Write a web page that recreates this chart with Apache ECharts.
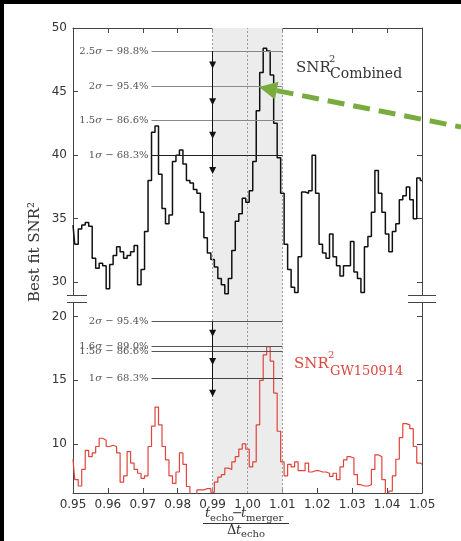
<!DOCTYPE html>
<html><head><meta charset="utf-8">
<script src="https://cdn.jsdelivr.net/npm/echarts@6/dist/echarts.min.js"></script>
<style>html,body{margin:0;padding:0;background:#fff;}#c{width:461px;height:541px;}</style>
</head><body><div id="c"></div>
<script>
// ---- data ----
const xValues = [0.950,0.951,0.952,0.953,0.954,0.955,0.956,0.957,0.958,0.959,
 0.960,0.961,0.962,0.963,0.964,0.965,0.966,0.967,0.968,0.969,
 0.970,0.971,0.972,0.973,0.974,0.975,0.976,0.977,0.978,0.979,
 0.980,0.981,0.982,0.983,0.984,0.985,0.986,0.987,0.988,0.989,
 0.990,0.991,0.992,0.993,0.994,0.995,0.996,0.997,0.998,0.999,
 1.000,1.001,1.002,1.003,1.004,1.005,1.006,1.007,1.008,1.009,
 1.010,1.011,1.012,1.013,1.014,1.015,1.016,1.017,1.018,1.019,
 1.020,1.021,1.022,1.023,1.024,1.025,1.026,1.027,1.028,1.029,
 1.030,1.031,1.032,1.033,1.034,1.035,1.036,1.037,1.038,1.039,
 1.040,1.041,1.042,1.043,1.044,1.045,1.046,1.047,1.048,1.049,1.050];
const combinedSNR2 = [34.5,33.0,34.2,34.5,34.7,34.4,31.9,31.1,31.5,31.3,
 29.5,31.4,32.1,32.8,32.4,31.9,32.1,32.4,32.9,29.8,
 31.0,34.0,38.0,41.8,42.3,38.5,35.8,34.6,35.3,39.5,
 40.0,40.4,39.3,38.0,37.8,37.3,37.0,35.5,33.5,32.3,
 31.8,31.2,30.3,29.8,29.1,30.3,32.5,34.8,35.4,36.6,
 36.3,37.2,39.5,43.5,46.5,48.4,48.2,46.3,42.5,39.8,
 37.0,33.0,31.0,29.6,29.2,32.0,37.1,37.0,37.2,40.0,
 37.0,33.0,32.3,31.9,33.8,32.0,31.3,30.5,31.3,31.3,
 33.2,30.8,30.3,29.2,32.8,33.6,35.5,38.8,37.0,35.5,
 33.8,32.4,34.0,34.6,36.5,36.8,37.5,36.5,35.0,38.2,38.0];
const gw150914SNR2 = [8.8,7.2,6.7,8.0,9.5,9.0,9.3,9.8,10.45,10.3,
 9.8,9.9,9.8,9.3,7.0,7.5,9.4,8.5,8.0,7.7,
 7.3,7.5,9.8,11.4,12.9,11.5,9.8,8.75,7.5,6.9,
 7.8,9.3,8.4,6.66,6.0,6.0,6.4,6.4,6.5,6.5,
 6.2,7.0,7.4,7.6,8.1,8.0,8.6,9.0,9.6,10.0,
 9.6,8.2,8.6,11.5,15.0,17.0,17.65,16.5,14.0,11.0,
 8.6,7.5,8.4,8.2,8.6,7.9,7.9,8.5,7.8,7.9,
 7.9,7.8,7.8,7.7,7.45,7.7,7.2,8.2,8.75,9.0,
 8.9,7.6,6.8,6.7,6.7,6.8,8.0,9.15,9.0,7.2,
 6.0,6.3,7.5,8.8,10.5,11.6,11.5,11.2,9.8,8.5,8.4];
const xTicks = [0.95,0.96,0.97,0.98,0.99,1.00,1.01,1.02,1.03,1.04,1.05];
const topYTicks = [30,35,40,45,50];
const bottomYTicks = [10,15,20];
const topSigmaLabels = ['2.5σ − 98.8%','2σ − 95.4%','1.5σ − 86.6%','1σ − 68.3%'];
const topSigmaLevels = [48.19,45.38,42.76,40.0];
const bottomSigmaLabels = ['2σ − 95.4%','1.6σ − 89.0%','1.5σ − 86.6%','1σ − 68.3%'];
const bottomSigmaLevels = [19.62,17.65,17.25,15.16];
const topArrowMarks = [47.09,44.2,41.57,38.8];
const bottomArrowMarks = [18.7,16.47,13.98];
const topArrowSpan = [48.19,38.6];
const bottomArrowSpan = [19.62,13.72];
const sigmaLineStart = 0.9725, sigmaLineEnd = 1.01, arrowX = 0.99;
const windowRange = [0.99,1.01];
const windowLines = [0.99,1.00,1.01];
const greenArrowTip = [1.0033,45.35];

// ---- chart ----
const chart = echarts.init(document.getElementById('c'));
const serif = "'DejaVu Serif', serif";
const sans = "'DejaVu Sans', sans-serif";
const pairs = (xs, ys) => xs.map((x,i)=>[x, ys[i]]);
const sigmaRich = t => { const i=t.indexOf('σ'); return '{n|'+t.slice(0,i)+'}{s|σ}{n|'+t.slice(i+1)+'}'; };
const richStyle = { n:{fontFamily:serif,fontSize:10,color:'#555'}, s:{fontFamily:serif,fontSize:10,fontStyle:'italic',color:'#555'} };

function sigmaLines(labels, levels, colors, span){
  const d = labels.map((lab,i)=>[
    {coord:[sigmaLineStart, levels[i]], lineStyle:{color:colors[i], width:1, type:'solid'},
     label:{show:true, position:'start', distance:3, formatter:sigmaRich(lab), rich:richStyle}},
    {coord:[sigmaLineEnd, levels[i]]}
  ]);
  d.push([{coord:[arrowX, span[0]], lineStyle:{color:'#111', width:1, type:'solid'}, label:{show:false}},
          {coord:[arrowX, span[1]]}]);
  return {silent:true, symbol:['none','none'], animation:false, data:d};
}
function arrowPoints(marks){
  return {silent:true, animation:false, symbol:'triangle', symbolSize:[7,7], symbolRotate:180,
    itemStyle:{color:'#111'}, label:{show:false}, data: marks.map(v=>({coord:[arrowX, v]}))};
}
const axisCol = '#444';
const xAx = (gi, pos, labels) => ({
  gridIndex:gi, type:'value', min:0.95, max:1.05, position:pos,
  axisLine:{show:true, onZero:false, lineStyle:{color:axisCol, width:1}},
  axisTick:{show:true, inside:true, length:5, customValues:xTicks, lineStyle:{color:axisCol}},
  axisLabel:{show:labels, customValues:xTicks, formatter:v=>v.toFixed(2), fontFamily:sans, fontSize:12, color:'#333', margin:6},
  splitLine:{show:false}
});
const yAx = (gi, pos, min, max, ticks, labels) => ({
  gridIndex:gi, type:'value', min:min, max:max, position:pos,
  axisLine:{show:true, onZero:false, lineStyle:{color:axisCol, width:1}},
  axisTick:{show:true, inside:true, length:5, customValues:ticks, lineStyle:{color:axisCol}},
  axisLabel:{show:labels, customValues:ticks, fontFamily:sans, fontSize:12, color:'#333', margin:6},
  splitLine:{show:false}
});

chart.setOption({
  animation:false,
  backgroundColor:'#fff',
  grid:[
    {left:73, right:39, top:28, height:267},
    {left:73, right:39, top:303, height:190},
    {left:73, right:39, top:28, height:465}
  ],
  xAxis:[ xAx(0,'top',false), xAx(1,'bottom',true),
    {gridIndex:2, type:'value', min:0.95, max:1.05, show:false} ],
  yAxis:[ yAx(0,'left',29,50,topYTicks,true), yAx(0,'right',29,50,topYTicks,false),
    yAx(1,'left',6.15,21.07,bottomYTicks,true), yAx(1,'right',6.15,21.07,bottomYTicks,false),
    {gridIndex:2, type:'value', min:0, max:1, show:false} ],
  series:[
    {type:'line', xAxisIndex:2, yAxisIndex:4, z:0, data:[[0.95,-5],[0.951,-5]], symbol:'none', lineStyle:{opacity:0},
     markArea:{silent:true, itemStyle:{color:'#ececec'}, data:[[{xAxis:windowRange[0]},{xAxis:windowRange[1]}]]},
     markLine:{silent:true, symbol:['none','none'], label:{show:false}, lineStyle:{type:[2,2], color:'#999', width:1},
       data: windowLines.map(v=>({xAxis:v}))}},
    {type:'line', name:'Combined', xAxisIndex:0, yAxisIndex:0, z:3, step:'middle', symbol:'none',
     data:pairs(xValues, combinedSNR2), lineStyle:{color:'#111', width:1.5},
     markLine: sigmaLines(topSigmaLabels, topSigmaLevels, ['#888','#888','#888','#222'], topArrowSpan),
     markPoint: arrowPoints(topArrowMarks)},
    {type:'line', name:'GW150914', xAxisIndex:1, yAxisIndex:2, z:3, step:'middle', symbol:'none',
     data:pairs(xValues, gw150914SNR2), lineStyle:{color:'#e0443c', width:1.2},
     markLine: sigmaLines(bottomSigmaLabels, bottomSigmaLevels, ['#555','#555','#555','#444'], bottomArrowSpan),
     markPoint: arrowPoints(bottomArrowMarks)}
  ]
});

// ---- annotations ----
const tip = chart.convertToPixel({xAxisIndex:0, yAxisIndex:0}, greenArrowTip);
const tail = [461, 127];
const dx = tail[0]-tip[0], dy = tail[1]-tip[1], L = Math.hypot(dx,dy);
const ux = dx/L, uy = dy/L, px = -uy, py = ux;
const hl = 18, hw = 9;
const bc = [tip[0]+ux*hl, tip[1]+uy*hl];
const txt = (x,y,text,size,color,extra) => Object.assign({type:'text', x:x, y:y, z:50,
  style:Object.assign({text:text, fontFamily:serif, fontSize:size, fill:color, textVerticalAlign:'bottom', verticalAlign:'bottom'}, extra||{})});
const g = [
  {type:'rect', shape:{x:0,y:0,width:461,height:4}, style:{fill:'#000'}, z:100},
  {type:'rect', shape:{x:0,y:0,width:4,height:541}, style:{fill:'#000'}, z:100},
  // axis break marks
  {type:'line', shape:{x1:67,y1:295.5,x2:87,y2:295.5}, style:{stroke:axisCol, lineWidth:1}, z:50},
  {type:'line', shape:{x1:67,y1:302.5,x2:87,y2:302.5}, style:{stroke:axisCol, lineWidth:1}, z:50},
  {type:'line', shape:{x1:408,y1:295.5,x2:436,y2:295.5}, style:{stroke:axisCol, lineWidth:1}, z:50},
  {type:'line', shape:{x1:408,y1:302.5,x2:436,y2:302.5}, style:{stroke:axisCol, lineWidth:1}, z:50},
  // y title
  {type:'text', x:35, y:252, rotation:Math.PI/2, z:50, style:{text:'Best fit SNR²', fontFamily:serif, fontSize:15, fill:'#333', textAlign:'center', align:'center', textVerticalAlign:'middle', verticalAlign:'middle'}},
  // combined label
  txt(296,76,'SNR',15,'#333'), txt(329,64,'2',10,'#333'), txt(330,81,'Combined',14,'#333'),
  // GW label
  txt(294,372,'SNR',15,'#d9463e'), txt(328,360,'2',10,'#d9463e'), txt(330,378,'GW150914',13,'#d9463e'),
  // x title
  txt(205,520,'t',13,'#333',{fontStyle:'italic'}), txt(210,523,'echo',10,'#333'),
  txt(232,520,'−',13,'#333'), txt(241,520,'t',13,'#333',{fontStyle:'italic'}), txt(246,523,'merger',10,'#333'),
  {type:'line', shape:{x1:203,y1:523.5,x2:289,y2:523.5}, style:{stroke:'#333', lineWidth:1}, z:50},
  txt(227,537,'Δ',13,'#333'), txt(236,537,'t',13,'#333',{fontStyle:'italic'}), txt(241,539,'echo',10,'#333'),
  // green arrow
  {type:'line', shape:{x1:bc[0],y1:bc[1],x2:tail[0],y2:tail[1]}, style:{stroke:'#7aab3f', lineWidth:5, lineDash:[17,9]}, z:60},
  {type:'polygon', shape:{points:[tip, [bc[0]+px*hw, bc[1]+py*hw], [bc[0]-px*hw, bc[1]-py*hw]]}, style:{fill:'#7aab3f'}, z:60}
];
chart.setOption({graphic:g});
</script></body></html>
